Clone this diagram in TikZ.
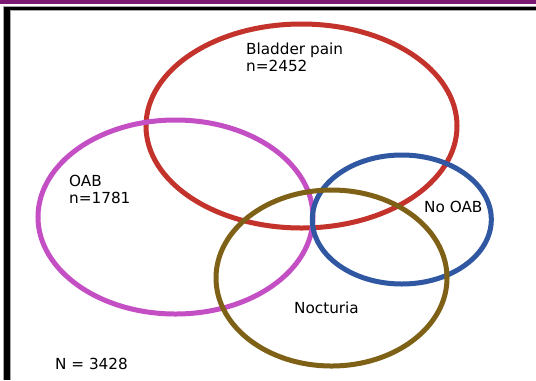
\documentclass[tikz,border=0pt]{standalone}
\usepackage{fontspec}
\setmainfont{DejaVu Sans}
\usetikzlibrary{shapes.geometric}
\definecolor{cred}{HTML}{C4322C}
\definecolor{cmag}{HTML}{C44FC4}
\definecolor{cblue}{HTML}{2F57A2}
\definecolor{cbrown}{HTML}{7E6116}
\definecolor{cpurple}{HTML}{7B1A73}
\begin{document}
\begin{tikzpicture}[x=1bp,y=-1bp,
  venn/.style={draw, ellipse, line width=5bp, inner sep=0pt},
  lbl/.style={anchor=base west, inner sep=0pt, font=\fontsize{15.3}{16.5}\selectfont, align=left}]
\useasboundingbox (0,0) rectangle (536,380);
\fill[white] (0,0) rectangle (536,380);
% frame
\fill[cpurple] (0,0) rectangle (536,4);
\fill[gray!70] (3,6) rectangle (536,11);
\fill[gray!70] (3,6) rectangle (11,380);
\fill[black] (4,7) rectangle (536,10);
\fill[black] (4,7) rectangle (10,380);
% ellipses
\node[venn, cred, minimum width=311bp, minimum height=204bp] (red) at (301.5,126) {};
\node[venn, cmag, minimum width=275bp, minimum height=194bp] (mag) at (175.5,217) {};
\node[venn, cblue, minimum width=179bp, minimum height=129bp] (blue) at (401.8,219.5) {};
\node[venn, cbrown, minimum width=231bp, minimum height=176bp] (brown) at (331.5,278) {};
% labels
\node[lbl] (tbp) at (246,71) {Bladder pain\\n=2452};
\node[lbl] (toab) at (69,203) {OAB\\n=1781};
\node[lbl] (tno) at (424,212) {No OAB};
\node[lbl] (tnoc) at (294,313) {Nocturia};
\node[lbl] (tn) at (55,369) {N = 3428};
\end{tikzpicture}
\end{document}
